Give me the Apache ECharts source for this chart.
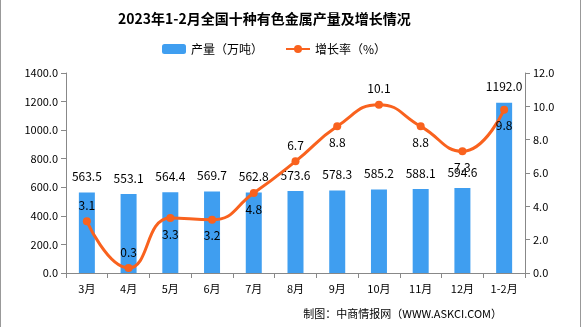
<!DOCTYPE html>
<html><head><meta charset="utf-8">
<script src="https://cdn.jsdelivr.net/npm/echarts@6/dist/echarts.min.js"></script>
<style>html,body{margin:0;padding:0;background:#fff}#c{width:581px;height:327px;box-sizing:border-box;border:1px solid #999;border-bottom:none;border-top:none}</style>
</head><body><div id="c"></div>
<script>
const categories = ['3月','4月','5月','6月','7月','8月','9月','10月','11月','12月','1-2月'];
const output = [563.5,553.1,564.4,569.7,562.8,573.6,578.3,585.2,588.1,594.6,1192.0];
const growth = [3.1,0.3,3.3,3.2,4.8,6.7,8.8,10.1,8.8,7.3,9.8];
const growthLabelPos = ['top','top','bottom','bottom','bottom','top','bottom','top','bottom','bottom','bottom'];
const leftTicks = [0,1400,200];
const rightTicks = [0,12,2];

const font = '"Noto Sans CJK SC", "DejaVu Sans", sans-serif';
const chart = echarts.init(document.getElementById('c'));
chart.setOption({
  animation:false,
  textStyle:{fontFamily:font},
  title:{text:'2023年1-2月全国十种有色金属产量及增长情况',left:112,top:7,
    textStyle:{fontSize:14,fontWeight:'bold',color:'#000',fontFamily:font}},
  legend:{top:38,left:156,itemGap:22,itemWidth:24,itemHeight:10,textStyle:{fontSize:12,color:'#000'},
    data:[{name:'产量（万吨）'},{name:'增长率（%）'}]},
  grid:{left:65,right:55,top:73,bottom:54},
  xAxis:{type:'category',data:categories,
    axisLine:{lineStyle:{color:'#888'}},
    axisTick:{show:true,lineStyle:{color:'#888'}},
    axisLabel:{color:'#000',fontSize:11,margin:10}},
  yAxis:[
    {type:'value',min:leftTicks[0],max:leftTicks[1],interval:leftTicks[2],
     axisLine:{show:true,lineStyle:{color:'#888'}},axisTick:{show:true,lineStyle:{color:'#888'}},
     splitLine:{show:false},
     axisLabel:{color:'#000',fontSize:11,formatter:v=>v.toFixed(1)}},
    {type:'value',min:rightTicks[0],max:rightTicks[1],interval:rightTicks[2],
     axisLine:{show:true,lineStyle:{color:'#888'}},axisTick:{show:true,lineStyle:{color:'#888'}},
     splitLine:{show:false},
     axisLabel:{color:'#000',fontSize:11,formatter:v=>v.toFixed(1)}}
  ],
  series:[
    {name:'产量（万吨）',type:'bar',data:output,barWidth:16,
     itemStyle:{color:'#3f9ef0'},
     label:{show:true,position:'top',distance:10,color:'#000',fontSize:12,formatter:p=>p.value.toFixed(1)}},
    {name:'增长率（%）',type:'line',yAxisIndex:1,smooth:true,
     data:growth.map((v,i)=>({value:v,label:{position:growthLabelPos[i]}})),
     symbol:'circle',symbolSize:8,
     lineStyle:{color:'#f9621e',width:3},itemStyle:{color:'#f9621e'},
     label:{show:true,color:'#000',fontSize:12,distance:6,formatter:p=>p.value.toFixed(1)}}
  ],
  graphic:[{type:'text',right:78,bottom:8,style:{text:'制图：中商情报网（WWW.ASKCI.COM）',fontSize:11,fill:'#000',fontFamily:font}}]
});
</script></body></html>
